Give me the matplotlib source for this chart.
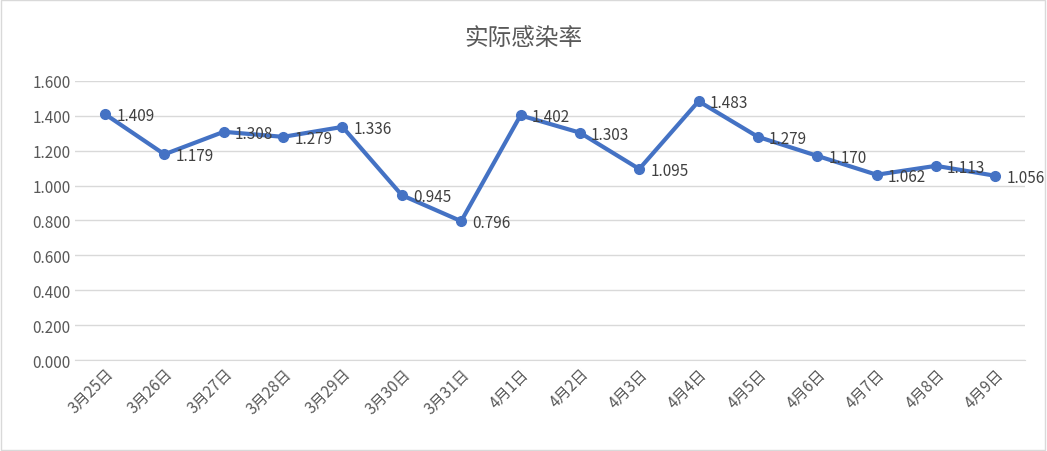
import matplotlib
matplotlib.use("Agg")
import matplotlib.pyplot as plt
from matplotlib.patches import Rectangle

plt.rcParams['font.family'] = ['Noto Sans CJK SC', 'DejaVu Sans']

dates = ["3月25日","3月26日","3月27日","3月28日","3月29日","3月30日","3月31日",
         "4月1日","4月2日","4月3日","4月4日","4月5日","4月6日","4月7日","4月8日","4月9日"]
values = [1.409,1.179,1.308,1.279,1.336,0.945,0.796,1.402,1.303,1.095,1.483,1.279,1.170,1.062,1.113,1.056]
yticks = [0.0,0.2,0.4,0.6,0.8,1.0,1.2,1.4,1.6]

fig = plt.figure(figsize=(10.47,4.52), dpi=100)
fig.patches.append(Rectangle((0.001,0.002),0.997,0.995,transform=fig.transFigure,
                             fill=False,edgecolor='#d9d9d9',lw=1))
ax = fig.add_axes([0.072,0.201,0.907,0.618])
x = list(range(len(values)))
ax.plot(x, values, color='#4472c4', lw=3, marker='o', ms=7, zorder=3)
for xi, v in zip(x, values):
    ax.annotate(f"{v:.3f}", (xi, v), xytext=(8,-1), textcoords='offset points',
                ha='left', va='center', fontsize=11, color='#404040')
ax.set_xlim(-0.5, len(values)-0.5)
ax.set_ylim(0,1.6)
ax.set_yticks(yticks)
ax.set_yticklabels([f"{t:.3f}" for t in yticks], fontsize=11, color='#595959')
ax.set_xticks(x)
ax.set_xticklabels(dates, rotation=45, ha='right', rotation_mode='anchor', fontsize=11, color='#595959')
ax.grid(axis='y', color='#d9d9d9', lw=1)
ax.set_axisbelow(True)
for s in ['top','right','left']:
    ax.spines[s].set_visible(False)
ax.spines['bottom'].set_color('#d9d9d9')
ax.tick_params(length=0)
fig.text(0.5, 0.915, "实际感染率", ha='center', va='center', fontsize=17, color='#595959')
fig.savefig("out.png", dpi=100)
